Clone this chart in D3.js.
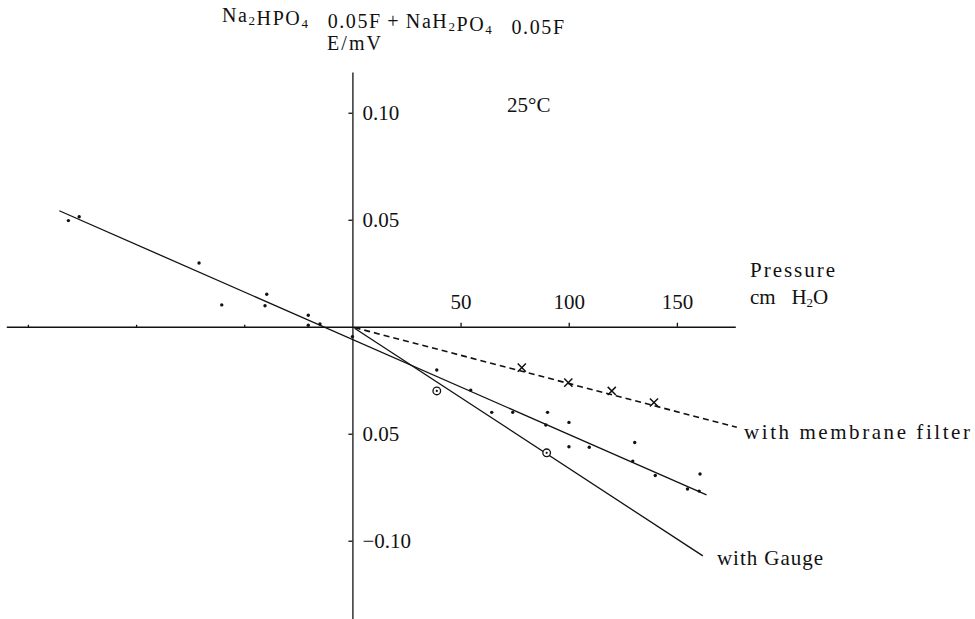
<!DOCTYPE html>
<html>
<head>
<meta charset="utf-8">
<script src="https://cdn.jsdelivr.net/npm/d3@7"></script>
<style>
  body { margin: 0; background: #fff; }
  text { font-family: "Liberation Serif", "Times New Roman", serif; fill: #111; }
</style>
</head>
<body>
<div id="chart"></div>
<script>
// readings: [pressure cm H2O, E]
const suctionPoints = [[-131.3, 0.0496], [-126.3, 0.0514], [-70.9, 0.0298], [-60.4, 0.0102], [-39.6, 0.0152],
  [-40.4, 0.0098], [-20.4, 0.0054], [-20.4, 0.0007], [-15.0, 0.0013], [0, -0.0046]];
const pressurePoints = [[39.0, -0.0202], [54.7, -0.0296], [64.4, -0.0400], [74.1, -0.0400], [90.2, -0.0400],
  [89.4, -0.0459], [100.1, -0.0447], [100.1, -0.0561], [109.5, -0.0563], [130.5, -0.0541], [129.6, -0.0628],
  [140.0, -0.0695], [160.7, -0.0688], [154.9, -0.0758], [160.3, -0.0768]];
const gaugePoints = [[39.0, -0.0300], [89.8, -0.0589]];
const membranePoints = [[78.3, -0.0191], [99.8, -0.0261], [119.9, -0.0300], [139.4, -0.0354]];

// fitted lines, end points
const fitLine = [[-135.5, 0.0542], [163.7, -0.0786]];
const gaugeLine = [[1, -0.0007], [162, -0.1071]];
const membraneLine = [[1, -0.0004], [177.7, -0.047]];

const xTicks = [-150, -100, -50, 50, 100, 150];
const yTicks = [0.10, 0.05, -0.05, -0.10];
const yTickLabels = ["0.10", "0.05", "0.05", "\u22120.10"];

class ElectrodeChartD3 {
    width = 975;
    height = 619;
    strokeWidth = 1.3;

    constructor(el) {
        this.el = el;
    }

    create() {
        this.svg = d3.select(this.el).append("svg")
            .attr("width", this.width)
            .attr("height", this.height);

        this.xScale = d3.scaleLinear().domain([-160, 177]).range([6.3, 735.3]);
        this.yScale = d3.scaleLinear().domain([0.119, -0.137]).range([72.1, 619.9]);
    }

    renderAxes() {
        const x = this.xScale, y = this.yScale;
        const yLabel = new Map(yTicks.map((v, i) => [v, yTickLabels[i]]));

        // both axes cross at the origin
        this.svg.append("g")
            .attr("class", "xAxisG")
            .attr("transform", "translate(0," + y(0) + ")")
            .call(d3.axisTop(x).tickValues(xTicks).tickSizeInner(4).tickSizeOuter(0)
                .tickPadding(14).tickFormat(d => d > 0 ? d : ""));
        // the suction side only has little marks on the line
        this.svg.selectAll(".xAxisG .tick line")
            .filter(d => d < 0)
            .attr("y1", 1).attr("y2", -2);

        this.svg.append("g")
            .attr("class", "yAxisG")
            .attr("transform", "translate(" + x(0) + ",0)")
            .call(d3.axisRight(y).tickValues(yTicks).tickSizeInner(-4).tickSizeOuter(0)
                .tickPadding(10).tickFormat(d => yLabel.get(d)));

        this.svg.selectAll(".xAxisG, .yAxisG")
            .attr("font-family", null)
            .attr("font-size", 21);
        this.svg.selectAll(".domain, .tick line")
            .attr("stroke", "#111")
            .attr("stroke-width", this.strokeWidth);
    }

    renderLines() {
        const line = d3.line().x(d => this.xScale(d[0])).y(d => this.yScale(d[1]));

        this.svg.append("path").datum(fitLine)
            .attr("d", line).attr("fill", "none")
            .attr("stroke", "#111").attr("stroke-width", this.strokeWidth);
        this.svg.append("path").datum(gaugeLine)
            .attr("d", line).attr("fill", "none")
            .attr("stroke", "#111").attr("stroke-width", this.strokeWidth);
        this.svg.append("path").datum(membraneLine)
            .attr("d", line).attr("fill", "none")
            .attr("stroke", "#111").attr("stroke-width", 1.6)
            .attr("stroke-dasharray", "6,4");
    }

    renderPoints() {
        const x = this.xScale, y = this.yScale;

        this.svg.selectAll(".dot")
            .data(suctionPoints.concat(pressurePoints))
            .join("circle")
            .attr("class", "dot")
            .attr("cx", d => x(d[0])).attr("cy", d => y(d[1]))
            .attr("r", 1.7).attr("fill", "#111");

        const gaugeG = this.svg.selectAll(".gaugeG")
            .data(gaugePoints)
            .join("g")
            .attr("class", "gaugeG")
            .attr("transform", d => "translate(" + x(d[0]) + "," + y(d[1]) + ")");
        gaugeG.append("circle").attr("r", 3.8)
            .attr("fill", "#fff").attr("stroke", "#111").attr("stroke-width", 1.3);
        gaugeG.append("circle").attr("r", 1.1).attr("fill", "#111");

        this.svg.selectAll(".crossMark")
            .data(membranePoints)
            .join("path")
            .attr("class", "crossMark")
            .attr("transform", d => "translate(" + x(d[0]) + "," + y(d[1]) + ")")
            .attr("d", d3.symbol(d3.symbolX, 45))
            .attr("fill", "none").attr("stroke", "#111").attr("stroke-width", 1.5);
    }

    renderLabels() {
        const svg = this.svg;

        const title = svg.append("text").attr("x", 222).attr("y", 22).attr("font-size", 20)
            .attr("textLength", 342).attr("lengthAdjust", "spacing");
        const parts = [["Na", 0], ["2", 1], ["HPO", 0], ["4", 1], ["\u2002 0.05F\u2009+\u2009Na", 0], ["H", 0], ["2", 1],
            ["PO", 0], ["4", 1], ["\u2002 0.05F", 0]];
        parts.forEach(p => {
            title.append("tspan")
                .attr("font-size", p[1] ? 13 : 20)
                .attr("dy", p[1] ? 3 : 0)
                .text(p[0]);
            if (p[1]) title.append("tspan").attr("dy", -3).text("");
        });

        svg.append("text").attr("x", 355).attr("y", 50).attr("font-size", 20)
            .attr("text-anchor", "middle").attr("letter-spacing", 2).text("E/mV");
        svg.append("text").attr("x", 507).attr("y", 112).attr("font-size", 21).text("25\u00b0C");

        svg.append("text").attr("x", 750).attr("y", 277).attr("font-size", 21)
            .attr("textLength", 85).attr("lengthAdjust", "spacing").text("Pressure");
        const unit = svg.append("text").attr("x", 750).attr("y", 304).attr("font-size", 21);
        unit.append("tspan").text("cm\u2002 H");
        unit.append("tspan").attr("font-size", 13).attr("dy", 3).text("2");
        unit.append("tspan").attr("dy", -3).text("O");

        svg.append("text").attr("x", 744).attr("y", 439).attr("font-size", 21)
            .attr("textLength", 226).attr("lengthAdjust", "spacing").text("with membrane filter");
        svg.append("text").attr("x", 717).attr("y", 565).attr("font-size", 21)
            .attr("textLength", 106).attr("lengthAdjust", "spacing").text("with Gauge");
    }

    render() {
        this.renderAxes();
        this.renderLines();
        this.renderPoints();
        this.renderLabels();
    }
}

const chart = new ElectrodeChartD3(document.getElementById("chart"));
chart.create();
chart.render();
</script>
</body>
</html>
